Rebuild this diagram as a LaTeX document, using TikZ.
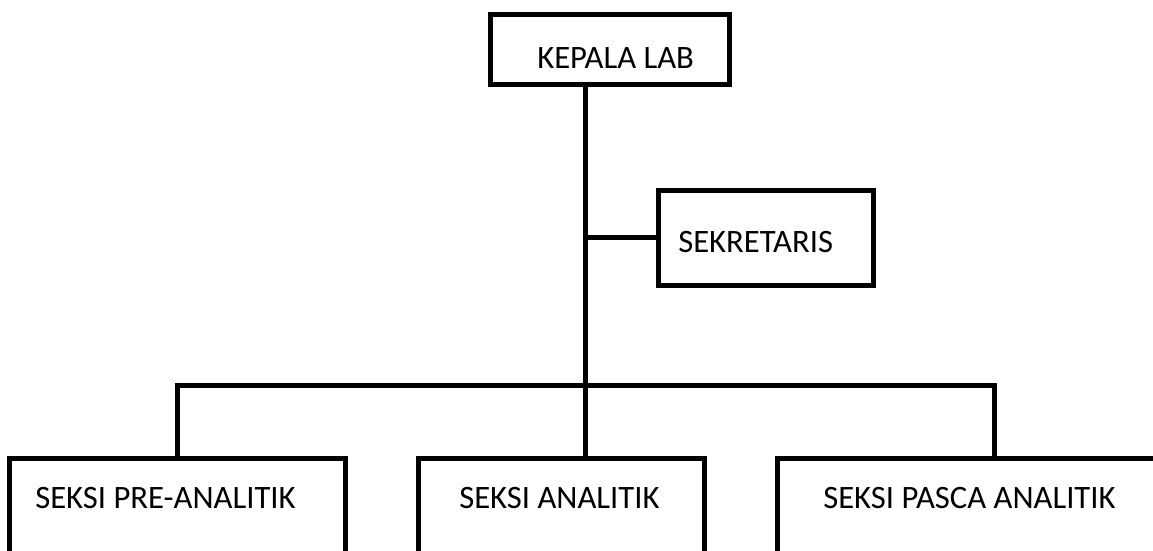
\documentclass[tikz,border=0pt]{standalone}
\usepackage{fontspec}
\setmainfont{Carlito}
\newcommand{\pxu}{0.75pt}
\tikzset{
  orgbox/.style={draw, line width=5*\pxu, inner sep=0pt, outer sep=0pt},
  orglbl/.style={anchor=base west, inner sep=0pt, font=\fontsize{24.5}{29}\selectfont},
  orgline/.style={line width=5*\pxu}
}
\begin{document}
\begin{tikzpicture}[x=0.75pt, y=-0.75pt]
  % frame of the page: 1153 x 550 px
  \useasboundingbox (0,0) rectangle (1153,550);
  \clip (0,0) rectangle (1153,550);

  % branch points
  \coordinate (bus) at (585.5,385.5); % trunk meets the bottom bar

  % boxes
  \node[orgbox, minimum width=239*\pxu, minimum height=70*\pxu] (kepala) at (609.5,49.5) {};
  \node[orgbox, minimum width=215*\pxu, minimum height=95.5*\pxu] (sekretaris) at (765.5,237.75) {};
  \node[orgbox, minimum width=336*\pxu, minimum height=181.5*\pxu] (pre) at (177.5,549.25) {};
  \node[orgbox, minimum width=286.5*\pxu, minimum height=181.5*\pxu] (analitik) at (561.25,549.25) {};
  \node[orgbox, minimum width=433*\pxu, minimum height=181.5*\pxu] (pasca) at (994,549.25) {};

  % labels
  \node[orglbl] (kepalaT) at (537,68) {KEPALA LAB};
  \node[orglbl] (sekretarisT) at (678,252) {SEKRETARIS};
  \node[orglbl] (preT) at (35,508) {SEKSI PRE-ANALITIK};
  \node[orglbl] (analitikT) at (459,508) {SEKSI ANALITIK};
  \node[orglbl] (pascaT) at (823,508) {SEKSI PASCA ANALITIK};

  % trunk and side branch
  \draw[orgline] (kepala.south -| bus) -- (analitik.north -| bus);
  \draw[orgline] (sekretaris.west) -- (sekretaris.west -| bus);

  % bottom bar with drops
  \draw[orgline] (pre.north) -- (pre.north |- bus) -- (pasca.north |- bus) -- (pasca.north);
\end{tikzpicture}
\end{document}
